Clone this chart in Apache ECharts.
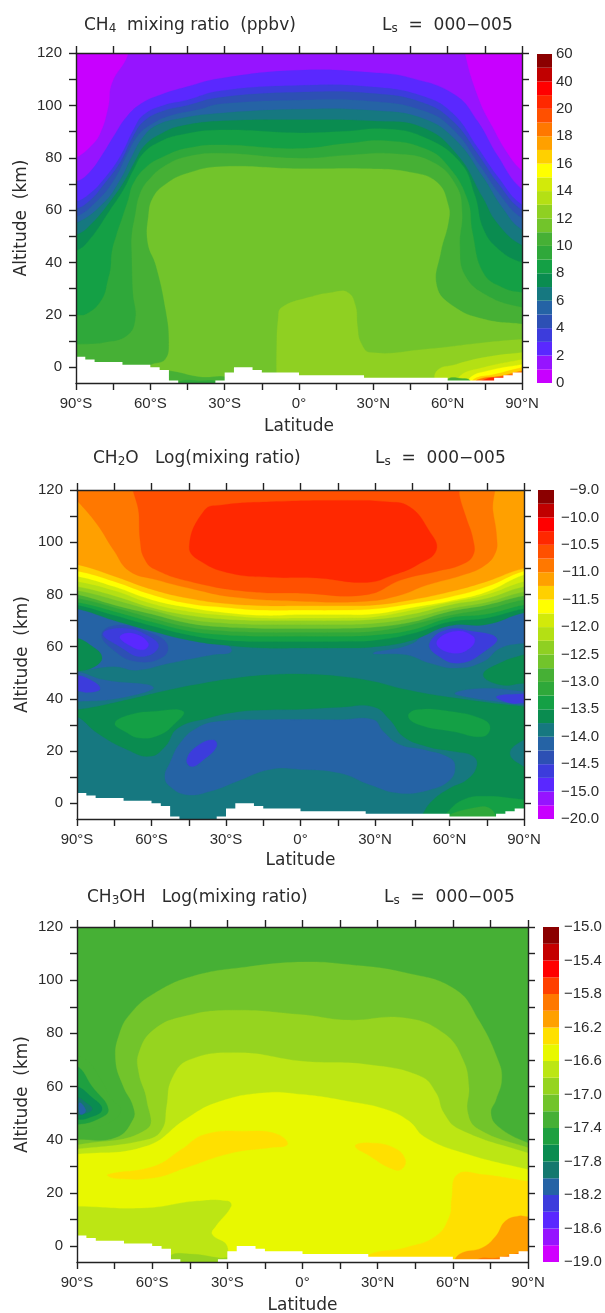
<!DOCTYPE html>
<html><head><meta charset="utf-8"><style>html,body{margin:0;padding:0;background:#fff}#c{width:605px;height:1313px}#c canvas{filter:blur(0.55px)}</style>
<script src="https://cdn.jsdelivr.net/npm/echarts@6/dist/echarts.min.js"></script></head><body><div id="c"></div>
<script>
const latTicks=[-90,-60,-30,0,30,60,90];
const latLabels=['90°S','60°S','30°S','0°','30°N','60°N','90°N'];
const altTicks=[0,10,20,30,40,50,60,70,80,90,100,110,120];
const altLabels=[0,20,40,60,80,100,120];
const ch4BarLabels=['0','2','4','6','8','10','12','14','16','18','20','40','60'];
const ch2oBarLabels=['−20.0','−15.0','−14.5','−14.0','−13.5','−13.0','−12.5','−12.0','−11.5','−11.0','−10.5','−10.0','−9.0'];
const ch3ohBarLabels=['−19.0','−18.6','−18.2','−17.8','−17.4','−17.0','−16.6','−16.2','−15.8','−15.4','−15.0'];
const palette24=['#c800ff','#9614ff','#5a28ff','#3c3cdc','#2d50b4','#2563a5','#167880','#0a8c50','#14a045','#2fa83a','#46b035','#72c42b','#8fd022','#b4e014','#d2ea0a','#ffff00','#ffd000','#ffa000','#ff7800','#ff5000','#ff2800','#ff0000','#c00000','#8b0000'];
const palette20=['#d000ff','#9614ff','#5a28ff','#3c3cdc','#2563a5','#14786e','#0a8c50','#1ea040','#46b035','#72c42b','#96d41f','#bce614','#e8f800','#ffe000','#ffa000','#ff7800','#ff4000','#ff0000','#c40000','#8b0000'];
// surface steps: latitude edges and altitude of each step
const terrainLat=[-90,-86.25,-82.5,-71.25,-60,-56.25,-52.5,-48.75,-33.75,-30,-26.25,-18.75,-15,0,26.25,60,78.75,82.5,86.25,90];
const terrainAlt=[4,3,2,1,0,-1,-5,-6,-5,-2,0,-1,-2,-3,-4,-5,-4,-3,-2];

// CH4: contour outlines [lat, alt]
const ch4Mag1=[[-96,130],[-68.9,130],[-68.9,120],[-75.6,108.4],[-77,99.5],[-80.3,89.3],[-84.3,84.2],[-90,79.8],[-96,76]];
const ch4Mag2=[[96,130],[66,130],[67,120],[72.8,102],[78,92],[84,82],[90,75],[96,71]];
const ch4L2=[[-90,70.9],[-84.3,74.7],[-79,81.7],[-74.9,88],[-69.5,95.7],[-63.5,100.8],[-56,104],[-45.3,107.1],[-31.9,110.3],[0,113.4],[30,112.5],[45,110.5],[63,104],[72,94],[80,81],[90,68]];
const ch4L3=[[-90,63.3],[-84.3,66.4],[-79,71.5],[-72.2,80.4],[-66.8,90.6],[-62.8,96.3],[-54.7,100],[-45.3,102],[-31.9,105.5],[0,107.6],[30,107],[50,103.5],[62,97],[72,84],[80,73],[90,62]];
const ch4L4=[[-90,60.5],[-84,64],[-79,69.5],[-72,78.5],[-67,88],[-62.5,94],[-55,97.8],[-45,100],[-32,103],[0,105],[30,104.5],[50,101],[62,94],[72.5,81],[80.5,70],[90,60]];
const ch4L5=[[-90,57.5],[-82,63],[-75,71],[-69.5,81],[-65,88.5],[-60,92.5],[-52,96],[-40,98.5],[-32,100.5],[0,102],[30,101.5],[50,98],[62,91],[73,77],[81,66],[90,57]];
const ch4L6=[[-90,55],[-79,62.6],[-72.2,71.5],[-67.5,80.4],[-62.8,88],[-57.4,92.4],[-48,95],[-31.9,97],[0,98.5],[30,98],[50,95],[63,87],[74,73],[82,61],[90,52.5]];
const ch4L7=[[-90,50.5],[-84,54.5],[-76,63.5],[-70.5,71],[-66,79],[-62,85],[-55,89.5],[-48,92],[-32,94],[0,94.5],[30,94],[50,91.5],[64,81],[74,65],[80,55],[90,46.5]];
const ch4L8=[[-90,44.5],[-84.3,49],[-76.3,60],[-70.9,67.7],[-66.8,75.3],[-62.8,81.7],[-56,86.2],[-48,88.7],[-32,90.6],[0,89.5],[17,90],[35,91],[50,88],[65,78.3],[71,65.6],[74.4,52.8],[80.6,45],[90,40]];
const ch4L9=[[-90,20],[-85.8,20.3],[-79.5,26],[-77,33.7],[-76,38],[-75.5,44],[-73.5,51],[-71,58],[-68.9,64],[-66.8,70.3],[-61.5,76.6],[-54.7,80.4],[-45.3,83.6],[-31.9,84.9],[0,83.5],[19.7,85.5],[35,86.5],[51,83.4],[60,77],[68,64],[70,51.5],[74.4,36],[82,30.5],[90,28.6]];
const ch4L10=[[-90,8.8],[-78.8,9.4],[-69.4,12],[-66,18.4],[-67,28.6],[-67.5,43.9],[-67.5,50],[-66.2,57.5],[-64.1,66.4],[-60,72.2],[-53.4,77.3],[-45.3,80.4],[-31.9,81.7],[0,79.8],[19.7,81],[38.4,81.5],[54,78.3],[63.4,69.4],[65.8,59.2],[64.9,46.4],[67,35],[76,27.3],[90,22.8]];
const ch4L11=[[-61,-1],[-60,0.8],[-54,3],[-52.5,9.4],[-53.8,22],[-57.7,38.8],[-61,47.4],[-60.8,57.5],[-58.8,65],[-53.4,70.2],[-45.3,74],[-31.9,76.6],[0,75.8],[27.5,75.8],[44.7,74.5],[55.6,70.7],[60.3,61.7],[60.3,55.4],[57.2,43.9],[55.6,31],[62,23.5],[74.4,18.4],[90,16.5],[96,16],[96,-12],[-28,-12],[-28,-4.4],[-40,-3.6],[-52.5,-1.2]];
const ch4L12=[[-9,-8],[-9,6.9],[-8.4,18.4],[-7,22.8],[4,26.7],[13.4,28.6],[19.7,28.6],[22.8,23.5],[23.6,15.8],[25,9.4],[29,5.6],[51,6.9],[74.4,9.4],[90,10.7],[96,11],[96,-12],[-9,-12]];
const ch4L13=[[55,-8],[55.6,-1.4],[63.4,1.1],[74.4,3.7],[90,5.6],[96,6],[96,-12],[55,-12]];
const ch4L14=[[64,-8],[65,-3.3],[74.4,-0.1],[90,3],[96,4],[96,-12],[64,-12]];
const ch4L15=[[68,-8],[69,-4],[76,-1.4],[90,1.1],[96,2],[96,-12],[68,-12]];
const ch4L16=[[70,-8],[70.5,-4.6],[79,-2.7],[90,-0.1],[96,1],[96,-12],[70,-12]];
const ch4L18=[[71,-8],[72,-4.8],[81.6,-3.3],[90,-1.4],[96,-1],[96,-12],[71,-12]];
const ch4L20=[[73,-8],[74,-5],[84,-3.4],[90,-2.5],[96,-2],[96,-12],[73,-12]];
const ch4Sink1=[[-52,-8],[-48,-5.3],[-40,-5.2],[-33,-5.6],[-32,-8]];
const ch4Sink2=[[59,-8],[60,-4.5],[66,-4.3],[69,-5],[69,-8]];
const ch4Layers=[[0,ch4Mag1],[0,ch4Mag2],[2,ch4L2,1],[3,ch4L3,1],[4,ch4L4,1],[5,ch4L5,1],[6,ch4L6,1],[7,ch4L7,1],[8,ch4L8,1],[9,ch4L9,1],[10,ch4L10,1],[11,ch4L11],[12,ch4L12],[13,ch4L13],[14,ch4L14],[15,ch4L15],[16,ch4L16],[18,ch4L18],[20,ch4L20],[10,ch4Sink2],[9,ch4Sink1]];

// CH2O: contour altitude rows at shared latitudes
const ch2oLat=[-90,-75,-60,-45,-30,-15,0,15,30,45,60,75,90];
const ch2oP7=[74.5,70,66,62.5,60.5,59.5,59.5,59.5,60,62.5,68,68.5,73];
const ch2oP8=[76,72,68,64.5,62.5,62,62,62,62.5,65,69.5,71,74.5];
const ch2oP9=[77,73.5,69.5,66,64.5,64,64,64,64.5,66.5,71,72.5,76];
const ch2oP10=[78.5,75,71,67.5,66,65.5,65.5,65.5,66,68.5,72,74.5,78];
const ch2oP11=[80,76,72.5,69,67.5,67,67,67,67.5,69.5,73.5,76,79.5];
const ch2oP12=[81.5,78,74,70.5,69,68.5,68.5,68.5,69,71,74.5,77,81];
const ch2oP13=[83,79.5,75,72,70.5,70,70,70,70.5,72.5,76,78.5,83];
const ch2oP14=[85,81.5,76.5,73.5,72,71,71,71,71.5,74,77,80,85];
const ch2oP15=[87,83,78,75,73,72,72.3,72.3,72.6,75,77.5,81,87.5];
const ch2oP16=[89,85,80,76.5,75,74,74,74,74.5,76.5,79,83,89];
const ch2oP17=[91.5,87,82,78.5,76.5,75.7,75.7,75.7,76,78,81,85,90];
const ch2oP18=[[-96,125],[-96,122],[-90,116],[-82,107],[-75,96.6],[-69,89],[-58,85.6],[-43,82],[-27,79],[0,77.4],[26.7,77.4],[40.7,79.9],[50,83.3],[65.6,87.5],[74,91],[78.5,96],[79,102],[77.5,112],[75.7,125]];
const ch2oP19=[[-65,125],[-65,110],[-64.5,100],[-63,94],[-58.8,89.7],[-43,84.6],[-19.9,81],[0,80.5],[26.7,79.9],[40.7,85.6],[54.7,88.8],[65,91.5],[69.5,95],[69.5,101],[66.5,110],[64,118],[63.3,125]];
const ch2oP20=[[-44.8,98.3],[-38.6,112.3],[-32.3,114.2],[-12,115.5],[19,116],[34.5,115.5],[43.9,113.6],[51.6,104.7],[54.7,97],[47,91.3],[37.6,87.5],[26.7,84.6],[6.5,86.3],[-12,86.6],[-27.7,88],[-40,92.6]];
const ch2oLowL=[[-96,78],[-90,78],[-75,73],[-60,69],[-45,65],[-30,61],[-28,58],[-35,57],[-52.6,53.7],[-66,51],[-75.4,52.4],[-90,50.5],[-96,50.5]];
const ch2oLowL2=[[-96,50.5],[-90,50.5],[-79.4,47.3],[-59.3,44.5],[-72.7,40.3],[-90,39],[-96,39]];
const ch2oLowR=[[29.3,57.5],[45.4,61.3],[52,68],[60,70],[73.6,72],[90,75],[96,75],[96,61],[89.6,61.3],[80.3,59.4],[73.6,54.3],[62.9,51.8],[52,53.7],[42.7,56.9]];
const ch2oLowR2=[[62.2,42.2],[73.6,44],[90,42.8],[96,42],[96,37],[89.6,37.7],[79,39],[69.6,40.3]];
const ch2oArch=[[-54.6,10.3],[-52.6,15.4],[-48.5,23],[-41.8,28.8],[-32.4,31.4],[-12,32],[15.9,32],[29.3,32],[33.3,27.5],[40,22.4],[49.5,20.5],[60.2,17.3],[62.2,14.1],[60.2,9],[52,5.2],[40,3.9],[28,7.1],[15.9,11.6],[0,13],[-12.3,13],[-25.7,8.4],[-36.4,4.6],[-45.8,3.3],[-52.6,6.5]];
const ch2oTip=[[84.4,19.2],[90,24.3],[96,26],[96,12],[90,14.1]];
const ch2oP4L=[[-80,65],[-72.7,68.3],[-62,65.8],[-53.9,61.3],[-55.2,56.2],[-66,54.3],[-75.4,58.8]];
const ch2oP3L=[[-79.5,65],[-71,67],[-62,64.5],[-57.2,60],[-64,56.2],[-72.7,60]];
const ch2oP2L=[[-72.7,63.9],[-67.3,65],[-61.3,61.3],[-63.3,58.8],[-69.3,60.7]];
const ch2oP3R=[[52,61.3],[58.8,66.4],[69.6,65.8],[79,63.2],[75,58.8],[64.2,53.7],[54.8,56.9]];
const ch2oP2R=[[54.8,61.3],[61.5,65.8],[69.6,63.9],[68.9,60],[61.5,57.5]];
const ch2oP3Blob=[[-45.8,16.7],[-41.8,21.8],[-35.1,24.3],[-33.8,21.8],[-39.1,16.7],[-43.8,14.1]];
const ch2oP3LowL=[[-96,49],[-90,49],[-85,47.5],[-80.7,44],[-85,42.5],[-90,43],[-96,43]];
const ch2oP3LowR=[[79,40.9],[90,42],[96,42.5],[96,38],[90,38.4],[84.4,38.4]];
const ch2oMid=[[-96,35.8],[-90,35.8],[-72.7,39],[-52.6,43.5],[-39,46],[-25.7,48],[-12,49.2],[0,49.5],[15.9,48.6],[29.3,46.7],[42.7,43.5],[62.2,40.3],[90,37],[96,37],[96,-12],[48,-12],[48,-8],[49.5,-3.7],[53.5,1.4],[60.2,5.8],[67,9],[71,14.2],[69.6,18],[61.5,19.9],[50.8,21.8],[41.4,25.6],[36,32],[29.3,37],[15.9,36.8],[0,36],[-12,35.8],[-25.7,35],[-37.4,32.6],[-49.5,28.8],[-54.5,21.8],[-60.6,18],[-69.7,20.5],[-81.8,26.9],[-90,33.3],[-96,34]];
const ch2oP8L=[[-74.7,30.7],[-68.7,33.9],[-59.3,35.2],[-47.2,35.2],[-51.2,30],[-56.6,26.3],[-64.6,25],[-70.7,27.5]];
const ch2oP8R=[[43.4,33.3],[46.8,35.8],[60.2,35.2],[72.3,32.6],[76.3,29.4],[73.6,25.6],[61.5,27.5],[48.1,30]];
const ch2oP7UL=[[-96,63.2],[-90,63.2],[-84.8,60.7],[-80,56.2],[-82.8,52.4],[-90,50.5],[-96,50.5]];
const ch2oP7UR=[[73.6,49.2],[80.3,53.7],[90,56.9],[96,58],[96,46],[90,46],[80.3,45.4]];
const ch2oBot8=[[56,-8],[58.9,-3.7],[65.6,1.4],[75,2.7],[90,1.4],[96,1],[96,-12],[56,-12]];
const ch2oBot9=[[60,-4.5],[69.6,-1.8],[76,-1.8],[78,-5.5],[62,-5.5]];
const ch2oLayers=[[5,ch2oLowL],[5,ch2oLowL2],[5,ch2oLowR],[5,ch2oLowR2],[5,ch2oArch],[4,ch2oP4L],[3,ch2oP3L],[3,ch2oP3R],[3,ch2oP3Blob],[3,ch2oP3LowL],[3,ch2oP3LowR],[2,ch2oP2L],[2,ch2oP2R],[7,ch2oMid],[6,ch2oTip],[8,ch2oP8L],[8,ch2oP8R],[7,ch2oP7UL],[7,ch2oP7UR],[8,ch2oBot8],[9,ch2oBot9],
 [7,ch2oP7,2],[8,ch2oP8,2],[9,ch2oP9,2],[10,ch2oP10,2],[11,ch2oP11,2],[12,ch2oP12,2],[13,ch2oP13,2],[14,ch2oP14,2],[15,ch2oP15,2],[16,ch2oP16,2],[17,ch2oP17,2],[18,ch2oP18],[19,ch2oP19],[20,ch2oP20]];

// CH3OH outlines
const ch3ohC1=[[-96,40],[-90,40],[-74.6,40.7],[-67.6,47.6],[-67.6,52.6],[-71.5,60],[-74.6,70],[-73,80],[-68.4,87.7],[-59.2,95],[-43.8,101.5],[-22.2,105],[0,106.8],[17.9,105.9],[41,102.8],[61,96.5],[70.3,85],[78,70],[79.5,62.7],[77.2,55],[75.2,50],[78,45],[90,38.8],[96,38],[96,-12],[-96,-12]];
const ch3ohC2=[[-96,38],[-90,38],[-62.2,43.9],[-62.2,55],[-65.3,65],[-65.3,72.7],[-59.2,81.5],[-46.8,86.5],[-28.4,88.7],[0,87],[17.9,85],[41,85.8],[56.4,80],[64.1,70],[66.4,60],[66,50],[70.3,43.9],[90,37],[96,36],[96,-12],[-96,-12]];
const ch3ohC3=[[-96,36.5],[-90,36.5],[-62.2,40],[-56,43.9],[-54.2,52.6],[-52.2,62.7],[-45.3,70],[-25.3,72.7],[0,69.5],[25.6,68.3],[47,63.9],[53.3,57.6],[56.4,50],[62.6,43.9],[90,35],[96,34],[96,-12],[-96,-12]];
const ch3ohYellow=[[-96,34.5],[-90,34.5],[-62.2,37.6],[-46.8,47.6],[-34.5,53.9],[-16,57.6],[0,57],[17.9,54.5],[33.3,51.4],[42.5,47],[48.7,41],[64.1,35],[90,28.8],[96,28],[96,-12],[-29,-12],[-30,0],[-36,4.4],[-34.5,7.5],[-28.4,15],[-29.9,17],[-42.2,17],[-62.2,14.4],[-90,15],[-96,15]];
const ch3ohGold1=[[-77.7,26.9],[-59.2,30],[-48.4,36.3],[-39,42],[-22,43.2],[-9.9,42],[-6,38.2],[-13,37],[-28.4,35],[-46.8,29.4],[-59.2,25.7],[-75,25.5]];
const ch3ohGold2=[[21,37.6],[27,38.8],[36.4,37],[41,32.6],[39.4,28.8],[34.8,29.4],[27,33.8]];
const ch3ohGold3=[[61.8,26.9],[71.8,26.9],[90,24.4],[96,24],[96,-12],[20,-12],[25.6,-3.8],[41,-0.6],[53.3,3.8],[58.7,11.3],[59.5,17.5]];
const ch3ohOrange=[[60,-8],[62.6,-3.1],[71.8,-0.6],[77.2,3.8],[81,9.4],[86.4,11.3],[90,11],[96,11],[96,-12],[60,-12]];
const ch3ohOrange2=[[70,-8],[70,-5],[78,-4.4],[90,-2],[96,-2],[96,-12],[70,-12]];
const ch3ohTail=[[-53,-4],[-45,-3],[-33,-4.5],[-28,-5],[-28,-12],[-53,-12]];
const ch3ohB1=[[-96,71.4],[-90,71.4],[-86,70],[-80.5,62.7],[-76,55],[-72.5,51.4],[-76,47],[-83.5,44.5],[-90,43.9],[-96,43.9]];
const ch3ohB2=[[-96,67.7],[-90,67.7],[-84,60],[-77.5,51.4],[-82,47.6],[-90,45.7],[-96,45.7]];
const ch3ohB3=[[-96,60],[-90,60],[-84.7,56.4],[-80,51.4],[-85.5,48.2],[-90,47.6],[-96,47.6]];
const ch3ohB4=[[-96,56],[-90,56],[-86.4,53.9],[-84,51.4],[-88,49.5],[-90,49.5],[-96,49.5]];
const ch3ohB5=[[-89,54],[-86.5,51],[-88,49.5],[-89,50]];
const ch3ohLayers=[[9,ch3ohC1],[10,ch3ohC2],[11,ch3ohC3],[8,ch3ohB1],[7,ch3ohB2],[6,ch3ohB3],[5,ch3ohB4],[4,ch3ohB5],[12,ch3ohYellow],[13,ch3ohGold1],[13,ch3ohGold2],[13,ch3ohGold3],[14,ch3ohOrange],[15,ch3ohOrange2],[10,ch3ohTail]];

const TXT='#2b2b2b', FT='Liberation Sans', FW='DejaVu Sans';
function below(c){const n=c.length-1;return [[-96,c[0][1]],...c,[96,c[n][1]],[96,-12],[-96,-12]];}
function above(row,lats){const c=row.map((a,i)=>[lats[i],a]);const n=c.length-1;return [[-96,130],[-96,c[0][1]],...c,[96,c[n][1]],[96,130]];}
function terrainPoly(){const p=[[-96,-12],[-96,terrainAlt[0]]];terrainAlt.forEach((a,i)=>{p.push([terrainLat[i],a],[terrainLat[i+1],a]);});p.push([96,terrainAlt[terrainAlt.length-1]],[96,-12]);return p;}
function resolve(layers,lats,pal){return layers.map(l=>{let pts=l[1];if(l[2]===1)pts=below(pts);if(l[2]===2)pts=above(pts,lats);return {pts,color:pal[l[0]],smooth:0.45};});}

const panels=[
 {grid:[76,53,446,330],bar:[537,54,15,329],base:'#9614ff',layers:resolve(ch4Layers,null,palette24),pal:palette24,labels:ch4BarLabels,align:'left',margin:4,gap:35,
  title:'CH{s|4}  mixing ratio  (ppbv)',tx:79,ty:11,lx:377,ly:11},
 {grid:[77,490,447,329],bar:[538,490,16,329],base:palette24[6],layers:resolve(ch2oLayers,ch2oLat,palette24),pal:palette24,labels:ch2oBarLabels,align:'right',margin:45,gap:33,
  title:'CH{s|2}O   Log(mixing ratio)',tx:88,ty:444,lx:370,ly:444},
 {grid:[77,927,451,335],bar:[543,927,16,335],base:palette20[8],layers:resolve(ch3ohLayers,null,palette20),pal:palette20,labels:ch3ohBarLabels,align:'left',margin:5,gap:35,
  title:'CH{s|3}OH   Log(mixing ratio)',tx:82,ty:883,lx:379,ly:883}
];
const titleRich={s:{fontFamily:FW,fontSize:12,color:TXT,padding:[7,0,0,0]}};
const grids=[],xs=[],ys=[],series=[],titles=[];
const lineS={lineStyle:{color:'#222',width:1.4}};
panels.forEach(pn=>{
 const g=grids.length;
 grids.push({left:pn.grid[0],top:pn.grid[1],width:pn.grid[2],height:pn.grid[3],outerBoundsMode:'none'});
 const xi=xs.length, yi=ys.length;
 xs.push({gridIndex:g,type:'value',position:'bottom',min:-90,max:90,interval:15,z:10,splitLine:{show:false},
  name:'Latitude',nameLocation:'middle',nameGap:pn.gap,nameMoveOverlap:false,nameTextStyle:{fontFamily:FW,fontSize:17,color:TXT},
  axisLine:{show:true,onZero:false,...lineS},axisTick:{show:true,length:7,inside:false,...lineS},
  axisLabel:{customValues:latTicks,margin:13,fontFamily:FT,fontSize:15,color:TXT,formatter:v=>latLabels[latTicks.indexOf(v)]}});
 xs.push({gridIndex:g,type:'value',position:'top',min:-90,max:90,interval:15,z:10,splitLine:{show:false},
  axisLine:{show:true,onZero:false,...lineS},axisTick:{show:true,length:7,...lineS},axisLabel:{show:false}});
 ys.push({gridIndex:g,type:'value',position:'left',min:-6,max:120,z:10,splitLine:{show:false},
  name:'Altitude  (km)',nameLocation:'middle',nameGap:46,nameMoveOverlap:false,nameTextStyle:{fontFamily:FW,fontSize:17,color:TXT},
  axisLine:{show:true,onZero:false,...lineS},axisTick:{show:true,length:7,customValues:altTicks,...lineS},
  axisLabel:{customValues:altLabels,margin:14,fontFamily:FT,fontSize:15,color:TXT}});
 ys.push({gridIndex:g,type:'value',position:'right',min:-6,max:120,z:10,splitLine:{show:false},
  axisLine:{show:true,onZero:false,...lineS},axisTick:{show:true,length:7,customValues:altTicks,...lineS},axisLabel:{show:false}});
 const all=[{pts:[[-96,-12],[-96,130],[96,130],[96,-12]],color:pn.base,smooth:0},...pn.layers,{pts:terrainPoly(),color:'#fff',smooth:0}];
 series.push({type:'custom',xAxisIndex:xi,yAxisIndex:yi,clip:true,silent:true,animation:false,z:2,
  data:all.map((l,i)=>[i]),
  renderItem:(p,api)=>{const l=all[api.value(0)];
   return {type:'polygon',shape:{points:l.pts.map(q=>api.coord(q)),smooth:l.smooth},style:{fill:l.color,stroke:l.color==='#fff'?null:l.color,lineWidth:0.3}};}});
 // colour bar
 const gb=grids.length;
 grids.push({left:pn.bar[0],top:pn.bar[1],width:pn.bar[2],height:pn.bar[3],outerBoundsMode:'none'});
 const bx=xs.length, by=ys.length;
 xs.push({gridIndex:gb,type:'value',min:0,max:1,show:false});
 ys.push({gridIndex:gb,type:'value',min:0,max:pn.pal.length,interval:2,position:'right',splitLine:{show:false},
  axisLine:{show:false},axisTick:{show:false},
  axisLabel:{margin:pn.margin,align:pn.align,fontFamily:FT,fontSize:15,color:TXT,formatter:v=>pn.labels[v/2]}});
 series.push({type:'custom',xAxisIndex:bx,yAxisIndex:by,silent:true,animation:false,
  data:pn.pal.map((c,i)=>[i]),
  renderItem:(p,api)=>{const i=api.value(0);const a=api.coord([0,i+1]),b=api.coord([1,i]);
   return {type:'rect',shape:{x:a[0],y:a[1],width:b[0]-a[0],height:b[1]-a[1]},style:{fill:pn.pal[i]}};}});
 titles.push({text:pn.title,left:pn.tx,top:pn.ty,textStyle:{fontFamily:FW,fontSize:17,fontWeight:'normal',color:TXT,rich:titleRich}});
 titles.push({text:'L{s|s}  =  000−005',left:pn.lx,top:pn.ly,textStyle:{fontFamily:FW,fontSize:17,fontWeight:'normal',color:TXT,rich:titleRich}});
});
const chart=echarts.init(document.getElementById('c'),null,{renderer:'canvas'});
chart.setOption({animation:false,backgroundColor:'#fff',title:titles,grid:grids,xAxis:xs,yAxis:ys,series});
</script></body></html>
